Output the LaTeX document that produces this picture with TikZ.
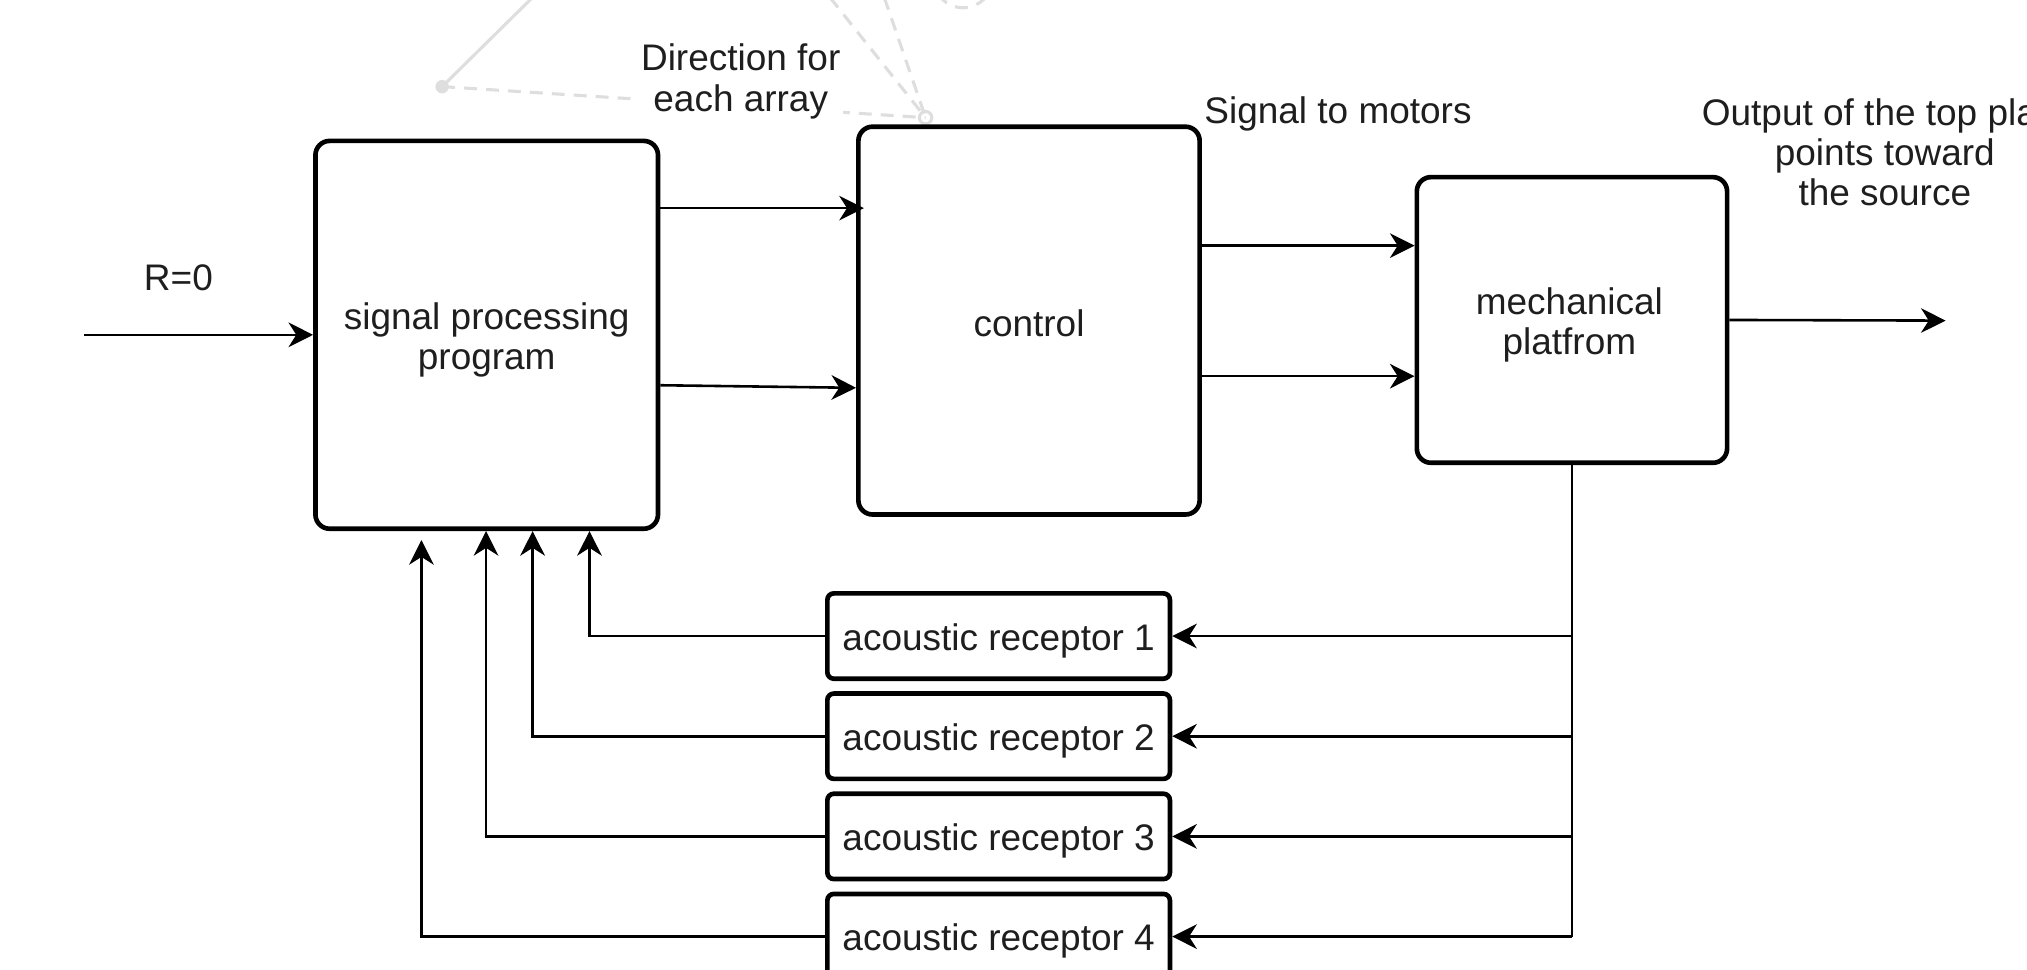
\documentclass[tikz,border=0pt]{standalone}
\usepackage{fontspec}
\setmainfont{Liberation Sans}
\usetikzlibrary{arrows.meta}
\definecolor{txt}{RGB}{30,30,30}
\definecolor{ghostc}{RGB}{222,222,222}

\begin{document}
\begin{tikzpicture}[x=0.5pt, y=-0.5pt,
  every node/.style={font=\fontsize{14.3pt}{15.5pt}\selectfont, text=txt, align=center, inner sep=0pt},
  block/.style={draw, line width=1.8pt, rounded corners=5.5pt},
  recbox/.style={draw, line width=1.8pt, rounded corners=2.5pt, minimum width=132.5pt, minimum height=33pt},
  arr/.style={line width=1pt, -{Stealth[length=9.5pt, width=9.5pt, inset=3pt]}},
  wire/.style={line width=1pt},
  ghost/.style={draw=ghostc, line width=1.2pt},
  ghostdash/.style={ghost, dash pattern=on 5pt off 3.5pt},
]
\useasboundingbox (0,0) rectangle (1568,750);
\clip (0,0) rectangle (1568,750);

% faint sketch lines at the top
\coordinate (gdot) at (342,67);
\coordinate (gring) at (716,91);
\draw[ghost] (gdot) -- (412,-2);
\draw[ghostdash] (gdot) -- (gring);
\draw[ghostdash] (642,-2) -- (gring);
\draw[ghostdash] (684,-2) -- (gring);
\draw[ghostdash] (745,-17) circle (11.5pt);
\fill[ghostc] (gdot) circle (2.6pt);
\draw[ghost] (gring) circle (2.4pt);

% main blocks
\node[block, minimum width=132.5pt, minimum height=150pt] (spp) at (376.5,259) {};
\node[block, minimum width=132pt, minimum height=150pt] (ctrl) at (796,248) {};
\node[block, minimum width=120pt, minimum height=110.5pt] (mech) at (1216,247.5) {};
\node (spptxt) at ([yshift=-1.8pt]spp.center) {signal processing\\program};
\node (ctrltxt) at ([yshift=-1.2pt]ctrl.center) {control};
\node (mechtxt) at ([xshift=-1pt, yshift=-1.8pt]mech.center) {mechanical\\platfrom};

% receptors
\node[recbox] (rec1) at (772.5,492) {};
\node[recbox] (rec2) at (772.5,569.5) {};
\node[recbox] (rec3) at (772.5,647) {};
\node[recbox] (rec4) at (772.5,724.5) {};
\node (rec1txt) at ([yshift=-1.8pt]rec1.center) {acoustic receptor 1};
\node (rec2txt) at ([yshift=-1.8pt]rec2.center) {acoustic receptor 2};
\node (rec3txt) at ([yshift=-1.8pt]rec3.center) {acoustic receptor 3};
\node (rec4txt) at ([yshift=-1.8pt]rec4.center) {acoustic receptor 4};

% labels
\node[fill=white, inner sep=1pt] (dirlbl) at (573,63) {Direction for\\each array};
\node (sigmot) at (1035,88) {Signal to motors};
\node (outlbl) at (1458,118) {Output of the top plate\\points toward\\the source};
\node (rlbl) at (138,215) {R=0};

% free ends
\coordinate (src) at (65,259);
\coordinate (out) at (1505,248);
\coordinate (a1) at (0,161);
\coordinate (a2) at (0,298);
\coordinate (a2e) at (0,300);
\coordinate (b1) at (0,190);
\coordinate (b2) at (0,291);
\coordinate (c1) at (456,0);
\coordinate (c2) at (412,0);
\coordinate (c3) at (376,0);
\coordinate (c4) at (326,0);

% forward path
\draw[arr] (src) -- (spp.west);
\draw[arr] (spp.east |- a1) -- ([xshift=3pt]ctrl.west |- a1);
\draw[arr] (spp.east |- a2) -- (ctrl.west |- a2e);
\draw[arr] (ctrl.east |- b1) -- (mech.west |- b1);
\draw[arr] (ctrl.east |- b2) -- (mech.west |- b2);
\draw[arr] (mech.east) -- (out);

% feedback through the receptors
\draw[wire] (mech.south) -- (mech.south |- rec4.east);
\draw[arr] (mech.south |- rec1.east) -- (rec1.east);
\draw[arr] (mech.south |- rec2.east) -- (rec2.east);
\draw[arr] (mech.south |- rec3.east) -- (rec3.east);
\draw[arr] (mech.south |- rec4.east) -- (rec4.east);

\draw[arr] (rec1.west) -| (spp.south -| c1);
\draw[arr] (rec2.west) -| (spp.south -| c2);
\draw[arr] (rec3.west) -| (spp.south -| c3);
\draw[arr] (rec4.west) -| ([yshift=-3.5pt]spp.south -| c4);
\end{tikzpicture}
\end{document}
